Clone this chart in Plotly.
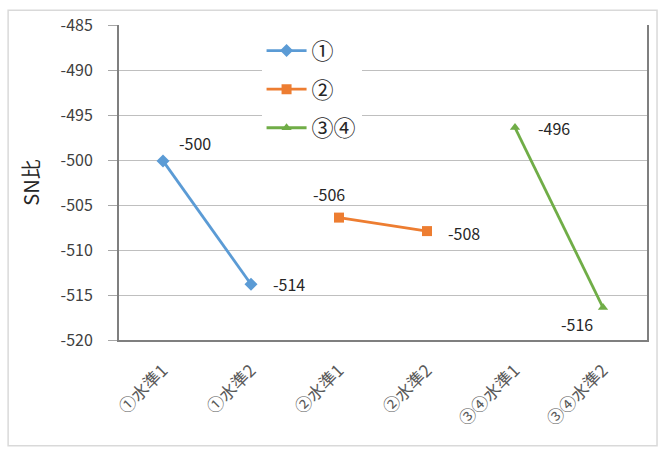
import plotly.graph_objects as go

# Categories on the x axis (factor / level)
categories = ["①水準1", "①水準2", "②水準1", "②水準2", "③④水準1", "③④水準2"]

# SN ratio per factor, each series covers its own two levels
series_names = ["①", "②", "③④"]
series_x = [
    ["①水準1", "①水準2"],
    ["②水準1", "②水準2"],
    ["③④水準1", "③④水準2"],
]
series_y = [
    [-500.1, -513.8],
    [-506.4, -507.9],
    [-496.4, -516.4],
]

y_ticks = [-485, -490, -495, -500, -505, -510, -515, -520]
y_tick_text = [str(v) for v in y_ticks]

colors = ["#5B9BD5", "#ED7D31", "#70AD47"]
symbols = ["diamond", "square", "triangle-up"]
marker_sizes = [10, 10, 9]

# pixel offsets of each value label relative to its point
label_shift = [
    [(32, 18), (38, 0)],
    [(-10, 24), (37, -2)],
    [(39, 0), (-26, -16)],
]

FONT = "Noto Sans CJK JP, Noto Sans, sans-serif"

fig = go.Figure()
annotations = []
for i, name in enumerate(series_names):
    fig.add_trace(go.Scatter(
        x=series_x[i], y=series_y[i], name=name, mode="lines+markers",
        legendgroup=name,
        line=dict(color=colors[i], width=2.8),
        marker=dict(symbol=symbols[i], size=marker_sizes[i], color=colors[i]),
    ))
    for j, (cx, cy) in enumerate(zip(series_x[i], series_y[i])):
        dx, dy = label_shift[i][j]
        annotations.append(dict(
            x=cx, y=cy, xref="x", yref="y", text=f"{cy:.0f}",
            showarrow=False, xshift=dx, yshift=dy,
            font=dict(family=FONT, size=16, color="#262626"),
        ))

fig.update_layout(
    width=665, height=451,
    margin=dict(l=119, r=18, t=20, b=111),
    paper_bgcolor="white", plot_bgcolor="white",
    font=dict(family=FONT, color="#404040"),
    annotations=annotations,
    showlegend=True,
    legend=dict(
        x=0.27, y=0.985, xanchor="left", yanchor="top",
        bgcolor="white", borderwidth=0,
        font=dict(family=FONT, size=22, color="#262626"),
        tracegroupgap=7, itemwidth=40,
    ),
    shapes=[dict(
        type="rect", xref="paper", yref="paper",
        x0=-0.21, x1=1.019, y0=-0.336, y1=1.047,
        line=dict(color="#d9d9d9", width=1.5), fillcolor="rgba(0,0,0,0)",
        layer="below",
    )],
)

fig.update_xaxes(
    type="category", categoryorder="array", categoryarray=categories,
    range=[-0.5, len(categories) - 0.5],
    showline=True, linecolor="#7f7f7f", linewidth=2, mirror=False,
    showgrid=False, ticks="", tickangle=-45, ticklabelstandoff=12,
    tickfont=dict(family=FONT, size=17, color="#595959"),
)
fig.update_yaxes(
    range=[-520, -485], tickvals=y_ticks, ticktext=y_tick_text,
    showline=True, linecolor="#7f7f7f", linewidth=2, mirror=True,
    showgrid=True, gridcolor="#bfbfbf", gridwidth=1,
    ticks="outside", ticklen=9, tickcolor="#a6a6a6", ticklabelstandoff=12,
    tickfont=dict(family=FONT, size=16, color="#404040"),
    zeroline=False,
    title=dict(text="SN比", standoff=16,
               font=dict(family=FONT, size=20, color="#262626")),
)

fig.write_html("out.html")
